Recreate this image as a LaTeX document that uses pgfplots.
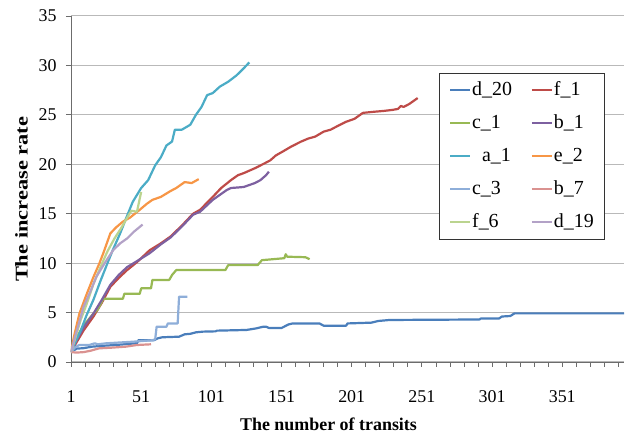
\documentclass[border=0pt]{standalone}
\usepackage{fontspec}
\setmainfont{Liberation Serif}
\usepackage{pgfplots}
\pgfplotsset{compat=1.18}

\definecolor{cD20}{HTML}{4A7EBB}
\definecolor{cF1}{HTML}{BE4B48}
\definecolor{cC1}{HTML}{98B954}
\definecolor{cB1}{HTML}{7D60A0}
\definecolor{cA1}{HTML}{4BACC6}
\definecolor{cE2}{HTML}{F79646}
\definecolor{cC3}{HTML}{8EAED9}
\definecolor{cB7}{HTML}{DA9290}
\definecolor{cF6}{HTML}{BBD48F}
\definecolor{cD19}{HTML}{B3A2C7}

\begin{document}
\begin{tikzpicture}
\begin{axis}[
    name=ax,
    scale only axis,
    width=553bp, height=346bp,
    xmin=1, xmax=395,
    ymin=0, ymax=35,
    axis lines=left,
    axis line style={-, draw=gray!85!black, line width=0.8bp},
    tick align=outside,
    major tick length=5bp, minor tick length=5bp,
    tick style={draw=gray!85!black, line width=0.8bp},
    xtick={1,51,...,351},
    minor xtick={11,21,...,391},
    ytick={0,5,...,35},
    ymajorgrids,
    grid style={draw=gray!55, line width=1bp},
    ticklabel style={font=\fontsize{18}{20}\selectfont},
    xticklabel style={yshift=-20bp},
    yticklabel style={xshift=-6bp},
    /pgf/number format/assume math mode=true,
    xlabel={\textbf{The number of transits}},
    ylabel={\scalebox{1.25}[1]{\textbf{The increase rate}}},
    label style={font=\fontsize{18}{20}\selectfont},
    xlabel style={yshift=-8bp, xshift=-19bp},
    ylabel style={at={(ticklabel cs:0.47)}, yshift=4bp},
    legend columns=2,
    legend cell align=left,
    legend style={at={(0.665,0.835)}, anchor=north west,
        draw=black!80, line width=0.8bp, fill=white,
        font=\fontsize{20}{22}\selectfont,
        inner xsep=10bp, inner ysep=7bp,
        row sep=13bp,
        nodes={inner sep=1bp, text height=14bp, text depth=4bp},
        /tikz/every even column/.append style={column sep=18bp}},
    legend image code/.code={\draw[#1, line width=2bp] (0bp,0bp) -- (20bp,0bp);},
    every axis plot/.append style={line width=2.2bp, line join=round, mark=none},
]
% d_20
\addplot[cD20] coordinates {(1,1.0) (5,1.35) (10,1.4) (16,1.55) (25,1.65) (33,1.72) (47,1.89) (48,1.9) (49,2.2) (60,2.2) (63,2.4) (66,2.5) (78,2.56) (82,2.8) (86,2.85) (90,3.0) (95,3.07) (104,3.1) (105,3.17) (126,3.24) (133,3.4) (138,3.57) (140,3.57) (142,3.44) (151,3.44) (156,3.8) (159,3.9) (178,3.9) (181,3.67) (197,3.67) (198,3.9) (215,3.98) (220,4.15) (228,4.25) (292,4.3) (293,4.4) (306,4.4) (308,4.6) (314,4.65) (317,4.92) (395,4.92)};
% f_1
\addplot[cF1] coordinates {(1,1.0) (5,2.0) (10,3.2) (17,4.6) (23,6.0) (29,7.6) (35,8.5) (41,9.3) (48,10.1) (57,11.3) (65,12.0) (72,12.7) (80,13.8) (88,15.0) (93,15.4) (102,16.7) (108,17.6) (115,18.4) (120,18.9) (124,19.1) (132,19.6) (139,20.1) (143,20.4) (147,20.9) (152,21.3) (158,21.8) (165,22.3) (170,22.6) (175,22.8) (181,23.3) (186,23.5) (190,23.8) (197,24.3) (203,24.6) (209,25.2) (216,25.3) (224,25.4) (230,25.5) (234,25.6) (236,25.9) (238,25.8) (242,26.1) (245,26.4) (248,26.7)};
% c_1
\addplot[cC1] coordinates {(1,1.0) (5,2.5) (10,3.7) (17,4.9) (20,5.3) (24,6.4) (38,6.4) (39,6.9) (50,6.9) (51,7.45) (58,7.45) (59,8.3) (71,8.3) (73,8.8) (76,9.3) (111,9.3) (113,9.8) (134,9.8) (137,10.3) (153,10.5) (154,10.9) (155,10.65) (168,10.6) (171,10.4)};
% b_1
\addplot[cB1] coordinates {(1,1.0) (5,2.2) (10,3.5) (17,4.9) (23,6.3) (29,7.8) (35,8.8) (41,9.6) (48,10.2) (57,11.0) (65,11.9) (72,12.6) (80,13.7) (88,14.9) (93,15.2) (102,16.4) (112,17.4) (115,17.6) (124,17.7) (132,18.1) (136,18.4) (140,18.9) (142,19.25)};
% a_1
\addplot[cA1] coordinates {(1,1.0) (4,2.0) (8,3.2) (12,4.7) (17,6.3) (22,8.2) (27,10.0) (31,11.4) (36,13.0) (41,14.8) (45,16.2) (51,17.6) (56,18.4) (61,19.9) (65,20.7) (69,21.9) (73,22.3) (75,23.5) (80,23.5) (86,24.0) (90,25.0) (94,25.8) (98,27.0) (102,27.2) (107,27.85) (113,28.35) (119,29.0) (124,29.7) (128,30.3)};
% e_2
\addplot[cE2] coordinates {(1,1.0) (3,2.5) (7,4.9) (12,6.8) (17,8.6) (21,9.9) (24,11.0) (29,13.0) (33,13.6) (38,14.2) (43,14.6) (50,15.4) (55,16.0) (59,16.4) (65,16.7) (72,17.3) (76,17.6) (82,18.2) (87,18.1) (92,18.5)};
% c_3
\addplot[cC3] coordinates {(1,1.0) (4,1.5) (7,1.72) (14,1.72) (18,1.89) (20,1.79) (26,1.89) (45,2.05) (59,2.2) (61,2.3) (62,3.57) (69,3.57) (70,3.9) (77,3.9) (78,6.6) (84,6.6)};
% b_7
\addplot[cB7] coordinates {(1,1.0) (5,0.95) (10,1.0) (15,1.14) (21,1.38) (30,1.45) (40,1.55) (48,1.72) (58,1.79)};
% f_6
\addplot[cF6] coordinates {(1,1.0) (4,2.4) (8,4.3) (12,5.8) (17,7.9) (22,9.6) (27,11.2) (32,12.5) (37,13.6) (41,14.6) (44,15.3) (48,15.2) (51,17.2)};
% d_19
\addplot[cD19] coordinates {(1,1.0) (4,2.6) (10,5.6) (15,7.2) (19,8.6) (25,10.0) (31,11.3) (36,12.0) (41,12.5) (46,13.2) (52,13.9)};
\legend{d\_20, f\_1, c\_1, b\_1, {\hspace{10bp}a\_1}, e\_2, c\_3, b\_7, f\_6, d\_19}
\end{axis}
\pgfresetboundingbox
\path ([xshift=-71bp,yshift=-74bp]ax.south west) rectangle ([xshift=1bp,yshift=16bp]ax.north east);
\end{tikzpicture}
\end{document}
